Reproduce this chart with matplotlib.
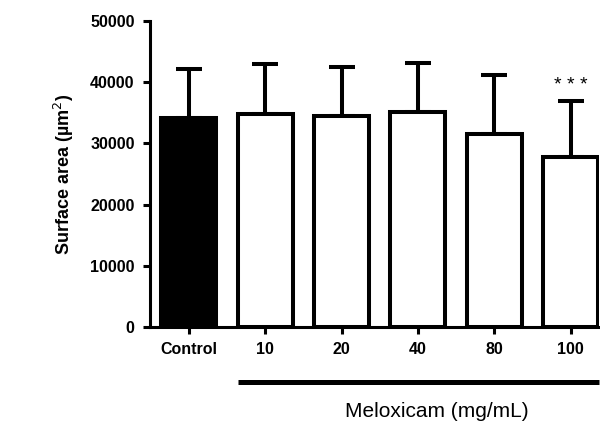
import matplotlib
matplotlib.use("Agg")
import matplotlib.pyplot as plt
import matplotlib.transforms as mtransforms

plt.rcParams['font.family'] = ['Liberation Sans', 'DejaVu Sans']

groups = ["Control", "10", "20", "40", "80", "100"]
means = [34200, 34800, 34500, 35200, 31500, 27700]
sd = [7900, 8100, 8000, 8000, 9700, 9300]
fills = ["black", "white", "white", "white", "white", "white"]
signif = ["", "", "", "", "", "* * *"]

fig = plt.figure(figsize=(6, 4.3), dpi=100)
ax = fig.add_axes([0.25, 0.24, 0.748, 0.711])

x = list(range(len(groups)))
ax.bar(x, means, width=0.72, color=fills, edgecolor="black", linewidth=2.9, zorder=2)
ax.errorbar(x, means, yerr=[[0] * len(sd), sd], fmt="none", ecolor="black",
            elinewidth=2.9, capsize=9.5, capthick=2.9, zorder=1)

for xi, m, s, lab in zip(x, means, sd, signif):
    if lab:
        ax.text(xi, m + s + 1100, lab, ha="center", va="bottom", fontsize=14)

ax.set_xlim(-0.51, 5.37)
ax.set_ylim(0, 50000)
ax.set_yticks([0, 10000, 20000, 30000, 40000, 50000])
ax.set_xticks(x)
ax.set_xticklabels(groups, fontweight="bold", fontsize=11.5)
for t in ax.get_yticklabels():
    t.set_fontweight("bold")
    t.set_fontsize(11.5)

for s in ["top", "right"]:
    ax.spines[s].set_visible(False)
for s in ["left", "bottom"]:
    ax.spines[s].set_linewidth(2.2)
ax.tick_params(axis="both", width=2.2, length=5, pad=6)

ax.set_ylabel("Surface area (µm$^2$)", fontweight="bold", fontsize=13, labelpad=10)

# bracket line under the meloxicam doses
trans = mtransforms.blended_transform_factory(ax.transData, ax.transAxes)
ax.plot([0.64, 5.37], [-0.181, -0.181], color="black", linewidth=3.6,
        transform=trans, clip_on=False, solid_capstyle="butt")
fig.text(0.728, 0.042, "Meloxicam (mg/mL)", ha="center", va="center", fontsize=15)

fig.savefig("out.png", dpi=100)
